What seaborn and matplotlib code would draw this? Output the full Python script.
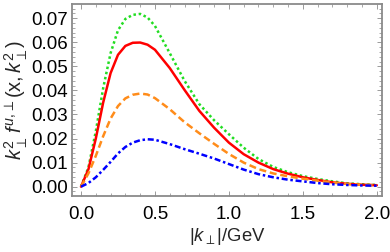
import matplotlib
matplotlib.use('Agg')
import matplotlib.pyplot as plt
import seaborn as sns
import pandas as pd
import numpy as np
from matplotlib.ticker import MultipleLocator

# k_perp values (GeV)
k_perp = [0.0, 0.05, 0.1, 0.15, 0.2, 0.25, 0.3, 0.35, 0.4, 0.45, 0.5,
          0.6, 0.7, 0.8, 0.9, 1.0, 1.1, 1.2, 1.3, 1.4, 1.5, 1.6, 1.7, 1.8, 1.9, 2.0]

green_dotted = [0.0, 0.008, 0.023, 0.041, 0.0555, 0.065, 0.0697, 0.0714, 0.0718, 0.0703, 0.0668,
                0.0555, 0.044, 0.0343, 0.0276, 0.0218, 0.0162, 0.0115, 0.0082, 0.0060, 0.0044,
                0.0032, 0.0022, 0.0014, 0.0010, 0.0007]
red_solid = [0.0, 0.0072, 0.0200, 0.0350, 0.0472, 0.0548, 0.0585, 0.0598, 0.0599, 0.0590, 0.0569,
             0.0493, 0.0402, 0.0315, 0.0245, 0.0183, 0.0135, 0.0100, 0.0073, 0.0054, 0.0039,
             0.0028, 0.0018, 0.0012, 0.0008, 0.0006]
orange_dashed = [0.0, 0.0055, 0.0128, 0.021, 0.0283, 0.0335, 0.0367, 0.0382, 0.0387, 0.0383, 0.0368,
                 0.0322, 0.0268, 0.0222, 0.0178, 0.0136, 0.0100, 0.0073, 0.0055, 0.0043, 0.0033,
                 0.0025, 0.0017, 0.0011, 0.0008, 0.0006]
blue_dotdash = [0.0, 0.0015, 0.0039, 0.0070, 0.0103, 0.0138, 0.0165, 0.0183, 0.0193, 0.0197, 0.0195,
                0.0177, 0.0156, 0.0137, 0.0117, 0.0094, 0.0071, 0.0052, 0.0039, 0.0029, 0.0022,
                0.0015, 0.0010, 0.0007, 0.0005, 0.0004]

sns.set_theme(style='ticks')
plt.rcParams['font.family'] = ['Liberation Sans', 'DejaVu Sans']
plt.rcParams['mathtext.fontset'] = 'custom'
plt.rcParams['mathtext.rm'] = 'Liberation Sans'
plt.rcParams['mathtext.it'] = 'Liberation Sans:italic'

fig = plt.figure(figsize=(3.9, 2.52), dpi=100)
ax = fig.add_axes([0.1846, 0.222, 0.7944, 0.762])

lw = 1.8
curves = [
    (green_dotted, '#22dd22', (0, (1, 1.1))),
    (red_solid, '#ff0000', '-'),
    (orange_dashed, '#ff8c1a', (0, (2.8, 1.5))),
    (blue_dotdash, '#0000ff', (0, (2.4, 1.1, 1, 1.1))),
]
for vals, col, ls in curves:
    sns.lineplot(x=k_perp, y=vals, color=col, linestyle=ls, linewidth=lw, ax=ax)

ax.set_xlim(-0.061, 2.034)
ax.set_ylim(-0.0039, 0.0759)
ax.xaxis.set_major_locator(MultipleLocator(0.5))
ax.xaxis.set_minor_locator(MultipleLocator(0.1))
ax.yaxis.set_major_locator(MultipleLocator(0.01))
ax.yaxis.set_minor_locator(MultipleLocator(0.002))
ax.xaxis.set_major_formatter(matplotlib.ticker.FormatStrFormatter('%.1f'))
ax.yaxis.set_major_formatter(matplotlib.ticker.FormatStrFormatter('%.2f'))

for s in ax.spines.values():
    s.set_color('#8a8a8a')
    s.set_linewidth(1.3)
ax.tick_params(which='both', direction='in', top=True, right=True, color='#9a9a9a',
               labelsize=13.5, labelcolor='black')
ax.tick_params(which='major', length=3.5, width=0.7)
ax.tick_params(which='minor', length=2, width=0.6)
ax.tick_params(axis='x', pad=7)
ax.tick_params(axis='y', pad=3)

ax.set_xlabel(r'$|k_{\perp}|$/GeV', fontsize=13.3, labelpad=2)
ax.set_ylabel(r'$k_{\perp}^{2}\, f^{u,\!\perp}(\mathrm{x},k_{\perp}^{2})$', fontsize=14.5, labelpad=1)

fig.savefig('out.png', dpi=100)
